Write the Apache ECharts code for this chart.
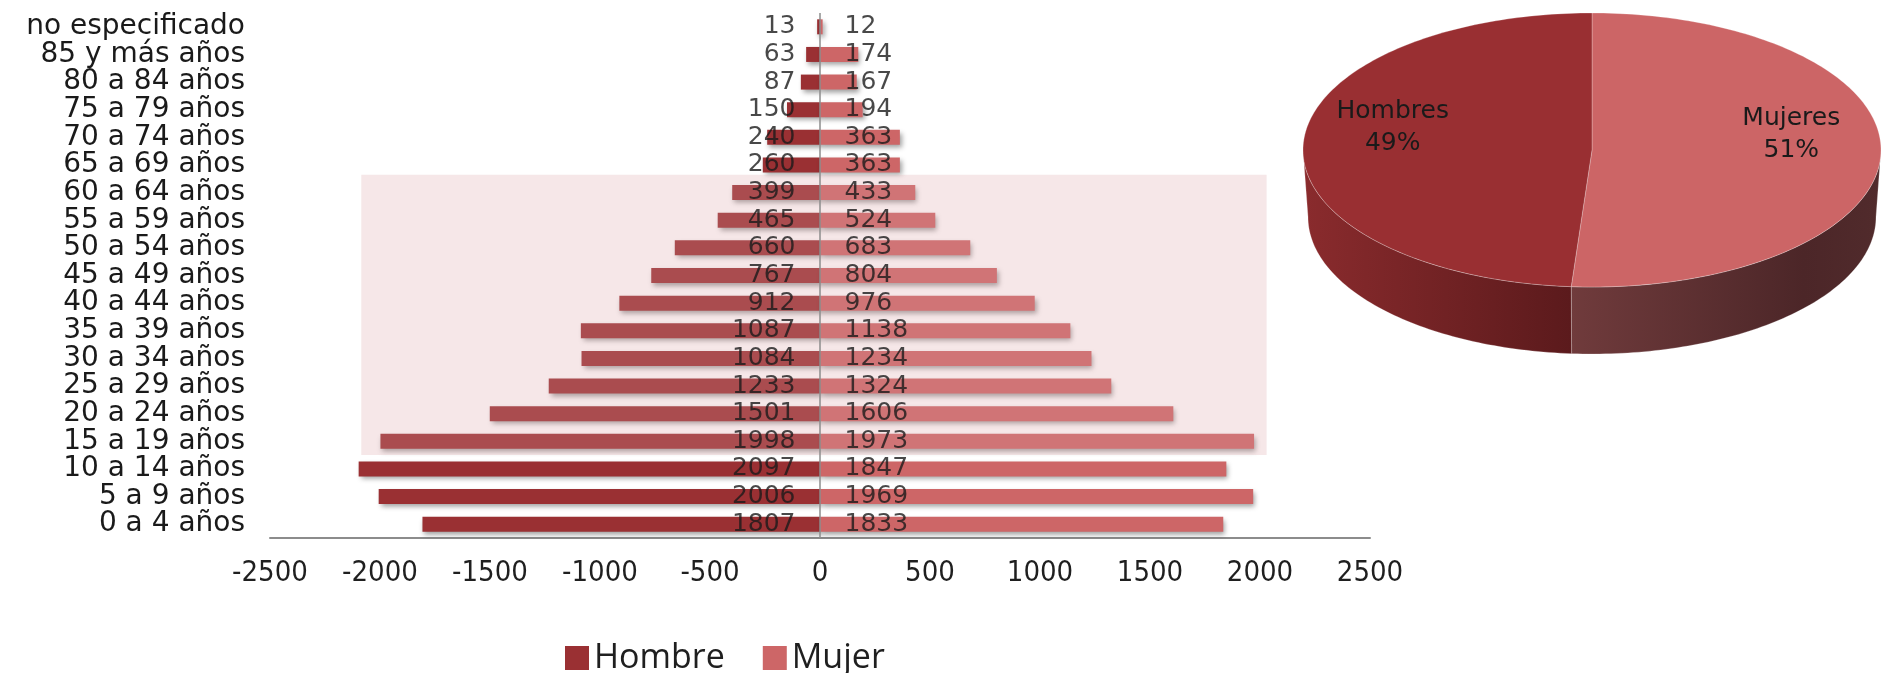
<!DOCTYPE html>
<html>
<head>
<meta charset="utf-8">
<script src="https://cdn.jsdelivr.net/npm/echarts@6/dist/echarts.min.js"></script>
<style>
  html, body { margin: 0; padding: 0; background: #ffffff; }
  #chart { width: 1886px; height: 673px; }
</style>
</head>
<body>
<div id="chart"></div>
<script>
// Population by age group and sex
const ageGroups = [
  'no especificado', '85 y más años', '80 a 84 años', '75 a 79 años', '70 a 74 años',
  '65 a 69 años', '60 a 64 años', '55 a 59 años', '50 a 54 años', '45 a 49 años',
  '40 a 44 años', '35 a 39 años', '30 a 34 años', '25 a 29 años', '20 a 24 años',
  '15 a 19 años', '10 a 14 años', '5 a 9 años', '0 a 4 años'
];
const hombre = [13, 63, 87, 150, 240, 260, 399, 465, 660, 767, 912, 1087, 1084, 1233, 1501, 1998, 2097, 2006, 1807];
const mujer  = [12, 174, 167, 194, 363, 363, 433, 524, 683, 804, 976, 1138, 1234, 1324, 1606, 1973, 1847, 1969, 1833];

// value axis ticks
const xMin = -2500, xMax = 2500, xStep = 500;

// highlighted band (age groups 60-64 down to 15-19)
const bandFrom = '60 a 64 años', bandTo = '15 a 19 años';
const bandXFrom = -2085, bandXTo = 2030;

// totals by sex for the pie
const sum = a => a.reduce((s, v) => s + v, 0);
const pieNames = ['Mujeres', 'Hombres'];
const pieValues = [sum(mujer), sum(hombre)];

const colHombre = '#9a3033';
const colMujer = '#cd6667';
const numFont = "'DejaVu Sans', sans-serif";

const chart = echarts.init(document.getElementById('chart'), null, { renderer: 'canvas' });

const barShadow = { shadowBlur: 5, shadowOffsetX: 2, shadowOffsetY: 3, shadowColor: 'rgba(0,0,0,0.38)' };

// 3D-looking pie drawn as elliptical slices with a front wall
const pieGeom = { cx: 1592, cy: 150, rx: 289, ry: 137, depth: 67, brx: 284, bry: 137 };
const pieTop = { Mujeres: '#cc6566', Hombres: '#992f32' };
const pieWall = {
  Mujeres: ['#703b3c', '#4c2628'],
  Hombres: ['#8a2b2d', '#5b1a1c']
};

function renderPie(params, api) {
  const i = params.dataIndex;
  const total = sum(pieValues);
  let start = 0;
  for (let k = 0; k < i; k++) start += pieValues[k];
  const a0 = start / total * Math.PI * 2;
  const a1 = (start + pieValues[i]) / total * Math.PI * 2;
  const g = pieGeom;
  const pt = (a, cy, rx, ry) => [g.cx + rx * Math.sin(a), cy - ry * Math.cos(a)];
  const arc = (from, to, cy, rx, ry) => {
    const n = Math.max(8, Math.ceil(Math.abs(to - from) / 0.02));
    const pts = [];
    for (let s = 0; s <= n; s++) pts.push(pt(from + (to - from) * s / n, cy, rx, ry));
    return pts;
  };
  const name = pieNames[i];
  const children = [];
  const w0 = Math.max(a0, Math.PI / 2), w1 = Math.min(a1, Math.PI * 1.5);
  if (w1 > w0) {
    const wallPts = arc(w0, w1, g.cy, g.rx, g.ry).concat(arc(w1, w0, g.cy + g.depth, g.brx, g.bry));
    const isLeft = name === 'Hombres';
    const c = pieWall[name];
    children.push({
      type: 'polygon', z2: 1,
      shape: { points: wallPts },
      style: {
        fill: new echarts.graphic.LinearGradient(0, 0, 1, 0, isLeft
          ? [{ offset: 0, color: c[0] }, { offset: 1, color: c[1] }]
          : [{ offset: 0, color: c[0] }, { offset: 0.75, color: c[1] }, { offset: 1, color: '#512b2c' }]),
        stroke: 'rgba(255,255,255,0.12)', lineWidth: 1
      }
    });
  }
  const topPts = [[g.cx, g.cy]].concat(arc(a0, a1, g.cy, g.rx, g.ry));
  children.push({
    type: 'polygon', z2: 2,
    shape: { points: topPts },
    style: { fill: pieTop[name], stroke: 'rgba(255,255,255,0.25)', lineWidth: 1 }
  });
  const mid = (a0 + a1) / 2;
  const lp = pt(mid, g.cy, g.rx * 0.69, g.ry * 0.69);
  children.push({
    type: 'text', z2: 3,
    style: {
      text: name + '\n' + Math.round(pieValues[i] / total * 100) + '%',
      x: lp[0], y: lp[1] - 19,
      fill: '#1a1a1a', font: "25px 'DejaVu Sans', sans-serif",
      align: 'center', verticalAlign: 'middle', lineHeight: 32
    }
  });
  return { type: 'group', children };
}

const option = {
  animation: false,
  backgroundColor: '#ffffff',
  grid: { left: 270, right: 516, top: 13, bottom: 135, containLabel: false },
  legend: {
    data: ['Hombre', 'Mujer'],
    left: 560, top: 636,
    icon: 'rect', itemWidth: 24, itemHeight: 24, itemGap: 38,
    textStyle: { fontFamily: "'Open Sans', sans-serif", fontSize: 34, color: '#1f1f1f', padding: [0, 0, 0, 0] }
  },
  xAxis: {
    type: 'value', min: xMin, max: xMax, interval: xStep,
    axisLine: { show: true, lineStyle: { color: '#8c8c8c', width: 2 } },
    axisTick: { show: false },
    splitLine: { show: false },
    axisLabel: {
      margin: 21, color: '#1f1f1f',
      formatter: v => String(v),
      fontFamily: "'DejaVu Sans Condensed', 'DejaVu Sans', sans-serif", fontSize: 29
    }
  },
  yAxis: {
    type: 'category', data: ageGroups, inverse: true,
    axisLine: { show: false }, axisTick: { show: false }, splitLine: { show: false },
    axisLabel: { interval: 0, margin: 25, color: '#1a1a1a', fontFamily: numFont, fontSize: 28 }
  },
  series: [
    {
      name: 'Hombre', type: 'bar', z: 2, barWidth: 15, barGap: '-100%',
      data: hombre.map(v => -v),
      itemStyle: Object.assign({ color: colHombre }, barShadow)
    },
    {
      name: 'Mujer', type: 'bar', z: 2, barWidth: 15, barGap: '-100%',
      data: mujer,
      itemStyle: Object.assign({ color: colMujer }, barShadow)
    },
    {
      name: 'etiqueta hombre', type: 'scatter', z: 4, silent: true,
      symbolSize: 1, itemStyle: { color: 'rgba(0,0,0,0)' },
      data: hombre.map((v, i) => [0, i]),
      label: {
        show: true, position: 'left', distance: 24,
        formatter: p => String(hombre[p.dataIndex]),
        fontFamily: numFont, fontSize: 25, color: '#1a1a1a'
      },
      markLine: {
        silent: true, symbol: 'none', label: { show: false },
        lineStyle: { color: '#8c8c8c', width: 1.5, type: 'solid' },
        data: [{ xAxis: 0 }]
      }
    },
    {
      name: 'etiqueta mujer', type: 'scatter', z: 4, silent: true,
      symbolSize: 1, itemStyle: { color: 'rgba(0,0,0,0)' },
      data: mujer.map((v, i) => [0, i]),
      label: {
        show: true, position: 'right', distance: 24,
        formatter: p => String(mujer[p.dataIndex]),
        fontFamily: numFont, fontSize: 25, color: '#1a1a1a'
      }
    },
    {
      name: 'Sexo', type: 'custom', coordinateSystem: 'none', z: 2, silent: true,
      data: pieNames.map((n, i) => ({ name: n, value: pieValues[i] })),
      renderItem: renderPie
    }
  ]
};

chart.setOption(option);

// translucent highlight band laid over the bars, placed through the axes
const iFrom = ageGroups.indexOf(bandFrom), iTo = ageGroups.indexOf(bandTo);
const cFrom = chart.convertToPixel({ gridIndex: 0 }, [bandXFrom, iFrom]);
const cTo = chart.convertToPixel({ gridIndex: 0 }, [bandXTo, iTo]);
const bandStep = Math.abs(chart.convertToPixel({ gridIndex: 0 }, [0, iFrom + 1])[1] - cFrom[1]);
const bandTop = cFrom[1] - bandStep / 2 - 4;
const bandBottom = cTo[1] + bandStep / 2;
chart.setOption({
  graphic: [{
    type: 'rect', z: 3, silent: true,
    shape: { x: cFrom[0], y: bandTop, width: cTo[0] - cFrom[0], height: bandBottom - bandTop },
    style: { fill: 'rgba(220,160,165,0.25)' }
  }]
});
</script>
</body>
</html>
